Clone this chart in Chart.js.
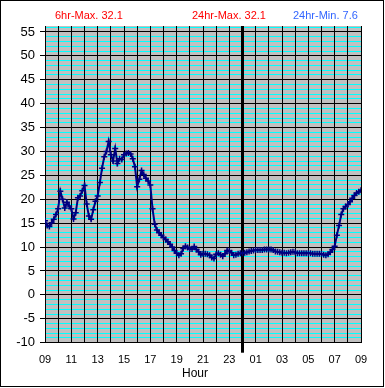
<!DOCTYPE html>
<html>
<head>
<meta charset="utf-8">
<script src="https://cdn.jsdelivr.net/npm/chart.js@4/dist/chart.umd.min.js"></script>
<style>
html, body { margin: 0; padding: 0; background: #fff; }
#wrap { position: relative; width: 385px; height: 388px; }
.lbl { position: absolute; font: 11px Arial, "Liberation Sans", sans-serif; white-space: nowrap; }
</style>
</head>
<body>
<div id="wrap">
  <canvas id="tempChart" width="385" height="388"></canvas>
  <div class="lbl" style="left:55px;top:9px;color:#ff0000">6hr-Max. 32.1</div>
  <div class="lbl" style="left:192px;top:9px;color:#ff0000">24hr-Max. 32.1</div>
  <div class="lbl" style="left:293px;top:9px;color:#3366ff">24hr-Min. 7.6</div>
  <div class="lbl" style="left:182px;top:366px;color:#000;font-size:12px">Hour</div>
</div>
<script>
// readings every 10 minutes, 09:00 -> 09:00 next day
const stepMinutes = 10;
const temps = [
  15.5, 14.5, 14.3, 15.1, 15.8, 16.8,   // 09
  18.0, 21.7, 20.0, 18.2, 19.4, 18.6,   // 10
  18.0, 15.9, 17.2, 20.3, 20.7, 21.8,   // 11
  22.9, 19.0, 16.5, 15.8, 17.8, 19.6,   // 12
  20.7, 23.5, 26.5, 28.9, 30.0, 32.1,   // 13
  29.3, 28.0, 30.6, 27.5, 28.5, 28.3,   // 14
  29.3, 29.6, 29.7, 29.5, 28.5, 26.8,   // 15
  22.6, 24.2, 26.0, 25.2, 24.4, 23.8,   // 16
  23.0, 18.0, 14.8, 13.6, 13.0, 12.5,   // 17
  12.0, 11.6, 11.1, 10.6, 10.0, 9.3,    // 18
  8.7, 8.3, 8.6, 9.7, 10.2, 9.9,        // 19
  9.6, 9.6, 10.1, 9.5, 9.0, 8.4,        // 20
  8.6, 8.6, 8.5, 8.3, 7.8, 7.6,         // 21
  8.5, 8.7, 8.4, 8.1, 8.6, 9.3,         // 22
  9.2, 8.8, 8.3, 8.4, 8.6, 8.7,         // 23
  8.7, 8.8, 8.9, 9.1, 9.2, 9.3,         // 00
  9.4, 9.4, 9.4, 9.4, 9.5, 9.5,         // 01
  9.5, 9.5, 9.4, 9.1, 9.0, 8.9,         // 02
  8.8, 8.8, 8.7, 8.8, 8.9, 9.0,         // 03
  8.9, 8.7, 8.7, 8.7, 8.7, 8.7,         // 04
  8.7, 8.7, 8.6, 8.6, 8.6, 8.6,         // 05
  8.6, 8.4, 8.3, 8.5, 8.9, 9.5,         // 06
  10.2, 12.5, 14.5, 16.8, 18.0, 18.5,   // 07
  18.9, 19.5, 20.2, 20.8, 21.3, 21.6,   // 08
  21.9                                  // 09
];
const hourLabels = ['09', '11', '13', '15', '17', '19', '21', '23', '01', '03', '05', '07', '09'];
const yMin = -10;
const yMax = 56.25;
const midnight = 15; // hours after 09:00

const points = temps.map((t, i) => ({ x: i * stepMinutes / 60, y: t }));

const plotBg = {
  id: 'plotBg',
  beforeDraw(chart) {
    const { ctx, chartArea: a } = chart;
    ctx.save();
    ctx.fillStyle = '#fff';
    ctx.fillRect(0, 0, chart.width, chart.height);
    ctx.fillStyle = '#c0c0c0';
    ctx.fillRect(a.left, a.top, a.right - a.left, a.bottom - a.top);
    ctx.restore();
  },
  afterDraw(chart) {
    const ctx = chart.ctx;
    ctx.save();
    ctx.strokeStyle = '#000';
    ctx.lineWidth = 1;
    ctx.strokeRect(0.5, 0.5, chart.width - 2, chart.height - 2);
    ctx.restore();
  }
};

new Chart(document.getElementById('tempChart').getContext('2d'), {
  type: 'line',
  data: {
    datasets: [{
      data: points,
      borderColor: '#000080',
      borderWidth: 2,
      pointStyle: 'cross',
      pointRadius: 3,
      pointBorderWidth: 1.5,
      pointBorderColor: '#000080',
      pointBackgroundColor: '#000080',
      tension: 0
    }]
  },
  options: {
    responsive: false,
    animation: false,
    devicePixelRatio: 1,
    layout: { padding: { top: 26, right: 24, left: 0, bottom: 0 } },
    plugins: { legend: { display: false }, tooltip: { enabled: false } },
    scales: {
      x: {
        type: 'linear',
        min: 0,
        max: 24,
        afterFit: s => { s.height = 45.3; },
        ticks: {
          stepSize: 1,
          autoSkip: false,
          maxRotation: 0,
          padding: 1,
          color: '#000',
          font: { family: 'Arial', size: 11 },
          callback: v => (v % 2 === 0 ? hourLabels[v / 2] : '')
        },
        grid: {
          z: -1,
          color: '#000',
          lineWidth: ctx => (ctx.tick && ctx.tick.value === midnight ? 3 : 1),
          tickLength: 10,
          tickWidth: ctx => (ctx.tick && ctx.tick.value === midnight ? 3 : 1),
          tickColor: ctx => (ctx.tick && ctx.tick.value === midnight ? '#000' : 'rgba(0,0,0,0)')
        },
        border: { color: '#000', width: 1 }
      },
      y: {
        min: yMin,
        max: yMax,
        afterFit: s => { s.width = 45; },
        ticks: {
          stepSize: 5,
          includeBounds: false,
          autoSkip: false,
          padding: 5,
          color: '#000',
          font: { family: 'Arial', size: 13 }
        },
        grid: { z: -2, color: '#000', lineWidth: 1, tickLength: 5, tickColor: '#000' },
        border: { color: '#000', width: 1 }
      },
      yMinor: {
        position: 'left',
        min: yMin,
        max: yMax,
        afterFit: s => { s.width = 0; },
        ticks: { display: false, stepSize: 1, includeBounds: false, autoSkip: false },
        grid: {
          z: -3,
          drawTicks: false,
          color: ctx => (ctx.tick && ctx.tick.value % 5 === 0 ? 'rgba(0,0,0,0)' : '#00ffff'),
          lineWidth: 1
        },
        border: { display: false }
      }
    }
  },
  plugins: [plotBg]
});
</script>
</body>
</html>
